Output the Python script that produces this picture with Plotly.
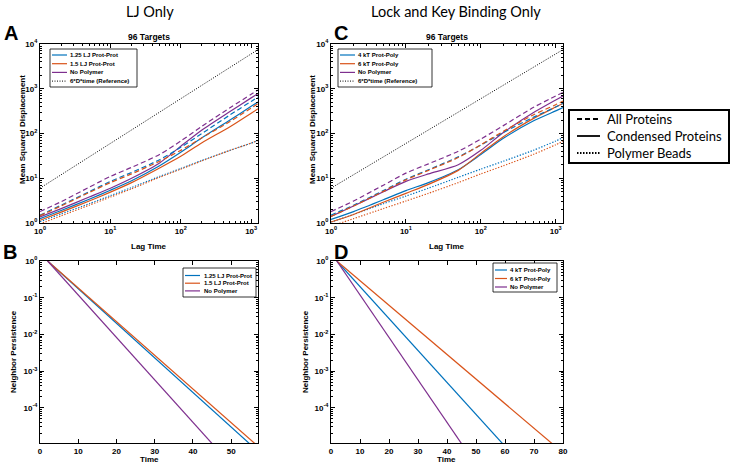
import plotly.graph_objects as go

W, H = 733, 466

# ---------------- data ----------------
lag = [1, 2, 5, 10, 20, 50, 100, 200, 500, 1000, 1250]
ref_time = [1, 1250]
ref_msd = [6, 7500]

# Panel A (LJ only)
A_all_125 = [1.5, 2.5, 5.0, 8.5, 13.5, 26, 49, 100, 260, 520, 650]
A_all_150 = [1.45, 2.4, 4.8, 8.0, 12.5, 24, 42, 80, 185, 370, 460]
A_all_nopol = [1.8, 3.0, 6.3, 11, 17.5, 34, 68, 145, 375, 750, 940]
A_con_125 = [1.25, 1.9, 3.4, 5.4, 8.8, 19, 38, 80, 200, 405, 505]
A_con_150 = [1.15, 1.75, 3.1, 4.9, 8.0, 17, 31, 62, 142, 285, 355]
A_con_nopol = [1.36, 2.1, 3.8, 6.0, 10, 22, 52, 120, 310, 625, 780]
A_pol_125 = [1.07, 1.6, 2.7, 4.1, 6.2, 11, 16.5, 25, 42, 61, 70]
A_pol_150 = [0.95, 1.45, 2.5, 3.8, 5.8, 10.5, 16, 24.5, 42, 61, 70]

# Panel C (lock and key only)
C_all_4kT = [1.5, 2.5, 5.3, 9.5, 15.5, 30, 55, 105, 230, 390, 470]
C_all_6kT = [1.4, 2.4, 5.1, 9.2, 15, 29, 56, 112, 260, 440, 530]
C_all_nopol = [1.8, 3.1, 7.0, 13, 21, 40, 75, 150, 380, 690, 830]
C_con_4kT = [1.2, 1.8, 3.3, 5.3, 8.0, 15.5, 34, 78, 190, 320, 380]
C_con_6kT = [1.05, 1.55, 2.9, 4.6, 7.3, 15, 36, 85, 215, 390, 470]
C_con_nopol = [1.4, 2.4, 5.0, 8.5, 12.5, 20, 42, 105, 290, 560, 690]
C_pol_4kT = [1.05, 1.55, 2.7, 4.0, 6.0, 10.5, 16, 24, 42, 68, 81]
C_pol_6kT = [0.85, 1.25, 2.1, 3.1, 4.6, 8.0, 12.5, 19, 34, 56, 67]

# Panel B (neighbor persistence, LJ only)
B_t_125 = [2, 10, 20, 30, 40, 50, 57]
B_p_125 = [1, 0.176, 0.020, 2.3e-3, 2.6e-4, 3.0e-5, 6.5e-6]
B_t_150 = [2, 10, 20, 30, 40, 50, 57]
B_p_150 = [1, 0.184, 0.0222, 2.7e-3, 3.2e-4, 3.9e-5, 8.9e-6]
B_t_nopol = [2, 10, 20, 30, 40, 46]
B_p_nopol = [1, 0.119, 8.3e-3, 5.8e-4, 4.1e-5, 8.1e-6]

# Panel D (neighbor persistence, lock and key)
D_t_4kT = [2, 10, 20, 30, 40, 50, 60]
D_p_4kT = [1, 0.201, 0.0272, 3.7e-3, 4.9e-4, 6.6e-5, 8.9e-6]
D_t_6kT = [2, 10, 20, 30, 40, 50, 60, 70, 77]
D_p_6kT = [1, 0.291, 0.0622, 0.0133, 2.84e-3, 6.1e-4, 1.3e-4, 2.8e-5, 9.4e-6]
D_t_nopol = [2, 10, 20, 30, 40, 46]
D_p_nopol = [1, 0.119, 8.3e-3, 5.8e-4, 4.1e-5, 8.1e-6]

names_A = ["1.25 LJ Prot-Prot", "1.5 LJ Prot-Prot", "No Polymer"]
names_C = ["4 kT Prot-Poly", "6 kT Prot-Poly", "No Polymer"]
ref_name = "6*D*time (Reference)"
style_names = ["All Proteins", "Condensed Proteins", "Polymer Beads"]

# ---------------- style ----------------
BLUE, ORANGE, PURPLE = "#0072BD", "#D95319", "#7E2F8E"
DASH = "5px,3px"
DOT = "1.3px,1.6px"
REFDOT = "1px,1.5px"
LW = 1.2
FONT = "Liberation Sans"
TFONT = "Lato"


def fx(px):
    return px / W


def fy(py):
    return 1 - py / H


fig = go.Figure()


def add_line(x, y, color, dash, xa, ya, width=LW, smooth=True):
    line = dict(color=color, width=width, dash=dash)
    if smooth:
        line.update(shape="spline", smoothing=0.7)
    fig.add_trace(go.Scatter(x=x, y=y, mode="lines", xaxis=xa, yaxis=ya,
                             line=line, showlegend=False, hoverinfo="skip"))


# Panel A
add_line(ref_time, ref_msd, "black", REFDOT, "x", "y", 1, smooth=False)
for ser, col in [(A_pol_125, BLUE), (A_pol_150, ORANGE)]:
    add_line(lag, ser, col, DOT, "x", "y")
for ser, col in [(A_con_125, BLUE), (A_con_150, ORANGE), (A_con_nopol, PURPLE)]:
    add_line(lag, ser, col, "solid", "x", "y")
for ser, col in [(A_all_125, BLUE), (A_all_150, ORANGE), (A_all_nopol, PURPLE)]:
    add_line(lag, ser, col, DASH, "x", "y")

# Panel C
add_line(ref_time, ref_msd, "black", REFDOT, "x3", "y3", 1, smooth=False)
for ser, col in [(C_pol_4kT, BLUE), (C_pol_6kT, ORANGE)]:
    add_line(lag, ser, col, DOT, "x3", "y3")
for ser, col in [(C_con_4kT, BLUE), (C_con_6kT, ORANGE), (C_con_nopol, PURPLE)]:
    add_line(lag, ser, col, "solid", "x3", "y3")
for ser, col in [(C_all_4kT, BLUE), (C_all_6kT, ORANGE), (C_all_nopol, PURPLE)]:
    add_line(lag, ser, col, DASH, "x3", "y3")

# Panel B
add_line(B_t_125, B_p_125, BLUE, "solid", "x2", "y2", smooth=False)
add_line(B_t_150, B_p_150, ORANGE, "solid", "x2", "y2", smooth=False)
add_line(B_t_nopol, B_p_nopol, PURPLE, "solid", "x2", "y2", smooth=False)

# Panel D
add_line(D_t_4kT, D_p_4kT, BLUE, "solid", "x4", "y4", smooth=False)
add_line(D_t_6kT, D_p_6kT, ORANGE, "solid", "x4", "y4", smooth=False)
add_line(D_t_nopol, D_p_nopol, PURPLE, "solid", "x4", "y4", smooth=False)

# ---------------- axes ----------------
tickfont = dict(family=FONT, size=8, color="black", weight="bold")


def sup(k):
    return "10<sup>%d</sup>" % k


def log_minor(k0, k1, vmax=None):
    vals = []
    for k in range(k0, k1 + 1):
        for m in range(2, 10):
            v = m * 10 ** k
            if vmax is None or v <= vmax:
                vals.append(v)
    return vals


base = dict(showline=True, linecolor="black", linewidth=1, mirror="allticks",
            ticks="inside", ticklen=4, tickcolor="black", tickwidth=1,
            showgrid=False, zeroline=False, tickfont=tickfont, automargin=False)

AB_x = [fx(40), fx(258)]
CD_x = [fx(331), fx(563)]
AC_y = [fy(223), fy(44)]
BD_y = [fy(443), fy(261)]

msd_x = dict(base, type="log", range=[0, 3.097], tickmode="array",
             tickvals=[1, 10, 100, 1000], ticktext=[sup(k) for k in range(4)],
             minor=dict(ticks="inside", ticklen=2, tickcolor="black",
                        tickvals=log_minor(0, 3, 1250)))
msd_y = dict(base, type="log", range=[0, 4], tickmode="array",
             tickvals=[1, 10, 100, 1000, 10000], ticktext=[sup(k) for k in range(5)],
             minor=dict(ticks="inside", ticklen=2, tickcolor="black",
                        tickvals=log_minor(0, 3)))
np_y = dict(base, type="log", range=[-4.96, 0], tickmode="array",
            tickvals=[1, 0.1, 0.01, 0.001, 0.0001],
            ticktext=[sup(k) for k in [0, -1, -2, -3, -4]],
            minor=dict(ticks="inside", ticklen=2, tickcolor="black",
                       tickvals=log_minor(-5, -1)))

fig.update_layout(
    xaxis=dict(msd_x, domain=AB_x, anchor="y"),
    yaxis=dict(msd_y, domain=AC_y, anchor="x"),
    xaxis2=dict(base, range=[0, 57], dtick=10, tick0=0, domain=AB_x, anchor="y2"),
    yaxis2=dict(np_y, domain=BD_y, anchor="x2"),
    xaxis3=dict(msd_x, domain=CD_x, anchor="y3"),
    yaxis3=dict(msd_y, domain=AC_y, anchor="x3"),
    xaxis4=dict(base, range=[0, 80], dtick=10, tick0=0, domain=CD_x, anchor="y4"),
    yaxis4=dict(np_y, domain=BD_y, anchor="x4"),
)

# ---------------- text ----------------
ann = []
shapes = []


def text(px, py, s, size, family=FONT, bold=True, angle=0, xanchor="center", color="black"):
    ann.append(dict(x=fx(px), y=fy(py), xref="paper", yref="paper", text=s,
                    showarrow=False, textangle=angle, xanchor=xanchor, yanchor="middle",
                    font=dict(family=family, size=size, color=color,
                              weight="bold" if bold else "normal")))


text(150, 11, "LJ Only", 14.5, family=TFONT, bold=False)
text(456, 11, "Lock and Key Binding Only", 14.5, family=TFONT, bold=False)
for lbl, px, py in [("A", 11, 33), ("B", 10, 252), ("C", 341, 33), ("D", 341, 252)]:
    text(px, py, lbl, 20, family="Liberation Sans")
text(149, 37, "96 Targets", 8.5)
text(447, 37, "96 Targets", 8.5)
text(149, 246, "Lag Time", 8)
text(447, 246, "Lag Time", 8)
text(149, 459, "Time", 8)
text(447, 459, "Time", 8)
text(22, 130, "Mean Squared Displacement", 8, angle=-90)
text(312, 130, "Mean Squared Displacement", 8, angle=-90)
text(13, 352, "Neighbor Persistence", 8, angle=-90)
text(305, 352, "Neighbor Persistence", 8, angle=-90)


def legend_box(x0, y0, x1, y1, bw=0.8):
    shapes.append(dict(type="rect", xref="paper", yref="paper", x0=fx(x0), x1=fx(x1),
                       y0=fy(y1), y1=fy(y0), line=dict(color="black", width=bw),
                       fillcolor="white", layer="above"))


def legend_item(lx0, lx1, tx, py, label, color, dash, size, family=FONT, bold=True, lw=LW):
    shapes.append(dict(type="line", xref="paper", yref="paper", x0=fx(lx0), x1=fx(lx1),
                       y0=fy(py), y1=fy(py), line=dict(color=color, width=lw, dash=dash),
                       layer="above"))
    text(tx, py, label, size, family=family, bold=bold, xanchor="left")


cols = [BLUE, ORANGE, PURPLE]
# Legend A
legend_box(50, 49, 137, 87)
for i, (nm, c) in enumerate(zip(names_A, cols)):
    legend_item(52, 67, 68, 55 + i * 8.7, nm, c, "solid", 6)
legend_item(52, 67, 68, 55 + 3 * 8.7, ref_name, "black", REFDOT, 6, lw=1)
# Legend C
legend_box(338, 49, 432, 87)
for i, (nm, c) in enumerate(zip(names_C, cols)):
    legend_item(340, 355, 356, 55 + i * 8.7, nm, c, "solid", 6)
legend_item(340, 355, 356, 55 + 3 * 8.7, ref_name, "black", REFDOT, 6, lw=1)
# Legend B
legend_box(183, 268, 256, 297)
for i, (nm, c) in enumerate(zip(names_A, cols)):
    legend_item(185, 200, 202, 275.5 + i * 7.7, nm, c, "solid", 6)
# Legend D
legend_box(493, 263, 557, 292)
for i, (nm, c) in enumerate(zip(names_C, cols)):
    legend_item(495, 507, 508, 270 + i * 8.5, nm, c, "solid", 6)
# Style legend
legend_box(569, 110, 729, 163, bw=2)
for i, (nm, d) in enumerate(zip(style_names, ["5px,3px", "solid", "1.5px,1.5px"])):
    legend_item(577, 600, 605, 119 + i * 17, nm, "black", d, 13, family=TFONT, bold=False, lw=1.8)

fig.update_layout(
    width=W, height=H, margin=dict(l=0, r=0, t=0, b=0),
    paper_bgcolor="white", plot_bgcolor="white",
    showlegend=False, annotations=ann, shapes=shapes,
)

# remove the browser's default 8px body margin so the figure fills the window
fig.write_html("out.html", config={"displayModeBar": False},
               post_script="document.body.style.margin='0';")
